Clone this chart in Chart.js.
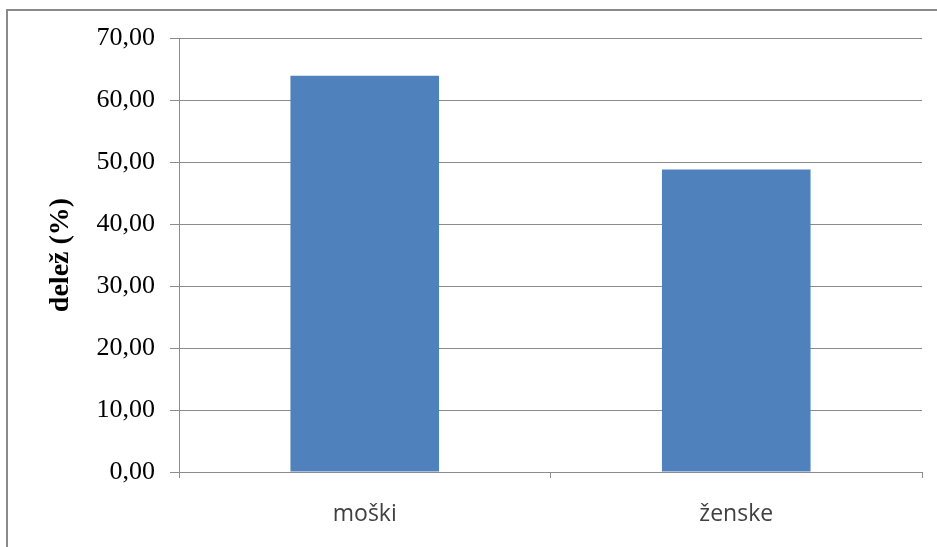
<!DOCTYPE html>
<html>
<head>
<meta charset="utf-8">
<script src="https://cdn.jsdelivr.net/npm/chart.js@4/dist/chart.umd.min.js"></script>
<style>
  html, body { margin: 0; padding: 0; background: #fff; }
  #wrap { position: relative; width: 937px; height: 547px; }
  #frame { position: absolute; left: 6px; top: 9px; right: -10px; bottom: -10px; border-top: 2px solid #8a8a8a; border-left: 2px solid #8a8a8a; }
  canvas { position: absolute; left: 0; top: 0; }
</style>
</head>
<body>
<div id="wrap">
  <div id="frame"></div>
  <canvas id="c" width="937" height="547"></canvas>
</div>
<script>
const categories = ["moški", "ženske"];
const shares = [63.9, 48.8];
const yTicks = [0, 10, 20, 30, 40, 50, 60, 70];
const yTitle = "delež (%)";

new Chart(document.getElementById("c"), {
  type: "bar",
  data: {
    labels: categories,
    datasets: [{
      data: shares,
      backgroundColor: "#4F81BD",
      borderWidth: 0,
      categoryPercentage: 1,
      barPercentage: 0.4
    }]
  },
  options: {
    responsive: false,
    animation: false,
    layout: { padding: { top: 38, right: 15, left: 0, bottom: 0 } },
    plugins: { legend: { display: false }, tooltip: { enabled: false } },
    scales: {
      x: {
        grid: { display: true, drawOnChartArea: false, drawTicks: true, tickLength: 6, color: "#8c8c8c", offset: true },
        border: { color: "#8c8c8c", width: 1 },
        ticks: { color: "#404040", padding: 23, font: { family: "'Open Sans', 'Liberation Sans', sans-serif", size: 23 } },
        afterFit: s => { s.height = 75; }
      },
      y: {
        min: 0, max: 70,
        afterBuildTicks: s => { s.ticks = yTicks.map(v => ({ value: v })); },
        grid: { color: "#8c8c8c", tickLength: 9, drawTicks: true },
        border: { color: "#8c8c8c", width: 1 },
        ticks: {
          color: "#000",
          padding: 15,
          font: { family: "'Liberation Serif', 'Times New Roman', serif", size: 26 },
          callback: v => v.toFixed(2).replace(".", ",")
        },
        title: {
          display: true,
          text: yTitle,
          color: "#000",
          padding: { top: 44, bottom: 0 },
          font: { family: "'Liberation Serif', 'Times New Roman', serif", size: 28, weight: "bold" }
        },
        afterFit: s => { s.width = 179; }
      }
    }
  }
});
</script>
</body>
</html>
